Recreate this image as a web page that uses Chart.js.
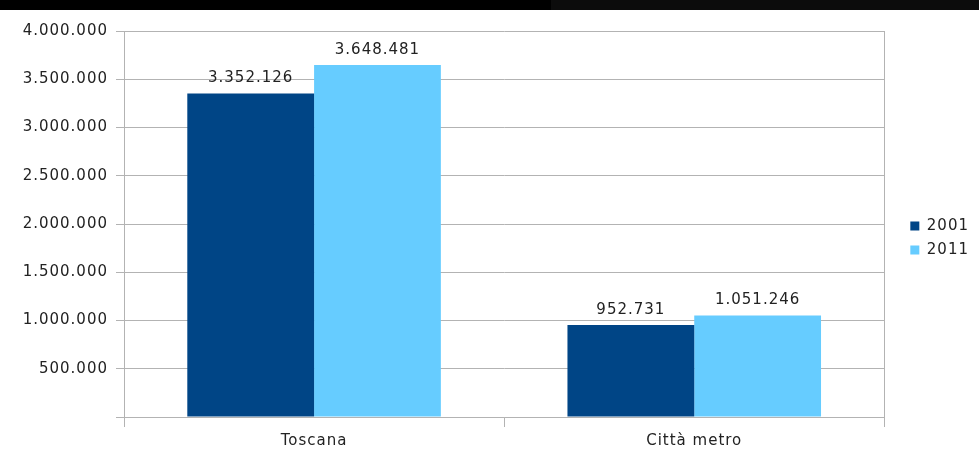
<!DOCTYPE html>
<html>
<head>
<meta charset="utf-8">
<script src="https://cdn.jsdelivr.net/npm/chart.js@4.4.1/dist/chart.umd.min.js"></script>
<style>
  html, body { margin: 0; padding: 0; background: #fff; }
  #wrap { position: relative; width: 979px; height: 453px; }
  #band { position: absolute; left: 0; top: 0; width: 979px; height: 10px;
          background: linear-gradient(to right, #000 0, #000 551px, #0c0c0c 551px, #0c0c0c 100%); }
</style>
</head>
<body>
<div id="wrap">
  <canvas id="popChart"></canvas>
  <div id="band"></div>
</div>
<script>
// categorie e valori
const areas = ['Toscana', 'Città metro'];
const pop2001 = [3352126, 952731];
const pop2011 = [3648481, 1051246];
const yTicks = [0, 500000, 1000000, 1500000, 2000000, 2500000, 3000000, 3500000, 4000000];

const fmt = n => String(n).replace(/\B(?=(\d{3})+(?!\d))/g, '.');
const textColor = '#222';
const gridColor = '#b3b3b3';

Chart.defaults.font.family = 'DejaVu Sans';
Chart.defaults.font.size = 15;
Chart.defaults.color = textColor;

// spaziatura lettere come nell'originale
const spacing = {
  id: 'spacing',
  beforeLayout(chart) { chart.ctx.letterSpacing = '1px'; },
  afterLayout(chart) {
    // legenda un po' più in alto
    chart.legend.top -= 4;
    chart.legend.bottom -= 4;
  },
  beforeDraw(chart) { chart.ctx.letterSpacing = '1px'; }
};

// etichette sopra le barre
const valueLabels = {
  id: 'valueLabels',
  afterDatasetsDraw(chart) {
    const ctx = chart.ctx;
    ctx.save();
    ctx.letterSpacing = '1px';
    ctx.font = '15px "DejaVu Sans"';
    ctx.fillStyle = textColor;
    ctx.textAlign = 'center';
    ctx.textBaseline = 'middle';
    chart.data.datasets.forEach((ds, i) => {
      chart.getDatasetMeta(i).data.forEach((bar, j) => {
        ctx.fillText(fmt(ds.data[j]), bar.x, bar.y - 15);
      });
    });
    ctx.restore();
  }
};

const ctx = document.getElementById('popChart').getContext('2d');

new Chart(ctx, {
  type: 'bar',
  data: {
    labels: areas,
    datasets: [
      {
        label: '2001',
        data: pop2001,
        backgroundColor: '#004586'
      },
      {
        label: '2011',
        data: pop2011,
        backgroundColor: '#66ccff'
      }
    ]
  },
  plugins: [spacing, valueLabels],
  options: {
    responsive: true,
    maintainAspectRatio: false,
    animation: false,
    layout: {
      padding: { top: 31, right: 0, bottom: 0, left: 0 }
    },
    datasets: {
      bar: {
        barPercentage: 1,
        categoryPercentage: 0.667
      }
    },
    plugins: {
      legend: {
        position: 'right',
        labels: {
          boxWidth: 9,
          boxHeight: 9,
          padding: 9,
          color: textColor,
          font: { size: 15 }
        }
      },
      tooltip: { enabled: false }
    },
    scales: {
      x: {
        grid: {
          offset: true,
          drawOnChartArea: false,
          tickLength: 10,
          color: gridColor
        },
        border: { color: gridColor },
        ticks: { padding: 5, color: textColor },
        afterFit(scale) { scale.height = 36; }
      },
      y: {
        min: 0,
        max: 4000000,
        afterBuildTicks(scale) {
          scale.ticks = yTicks.map(v => ({ value: v }));
        },
        grid: {
          color: gridColor,
          tickLength: 8
        },
        border: { color: gridColor },
        ticks: {
          padding: 8,
          color: textColor,
          callback: v => (v === 0 ? '' : fmt(v))
        },
        afterFit(scale) { scale.width = 124; }
      },
      yr: {
        position: 'right',
        min: 0,
        max: 4000000,
        grid: { display: false },
        border: { color: gridColor },
        ticks: { display: false },
        afterFit(scale) { scale.width = 17; }
      }
    }
  }
});
</script>
</body>
</html>
